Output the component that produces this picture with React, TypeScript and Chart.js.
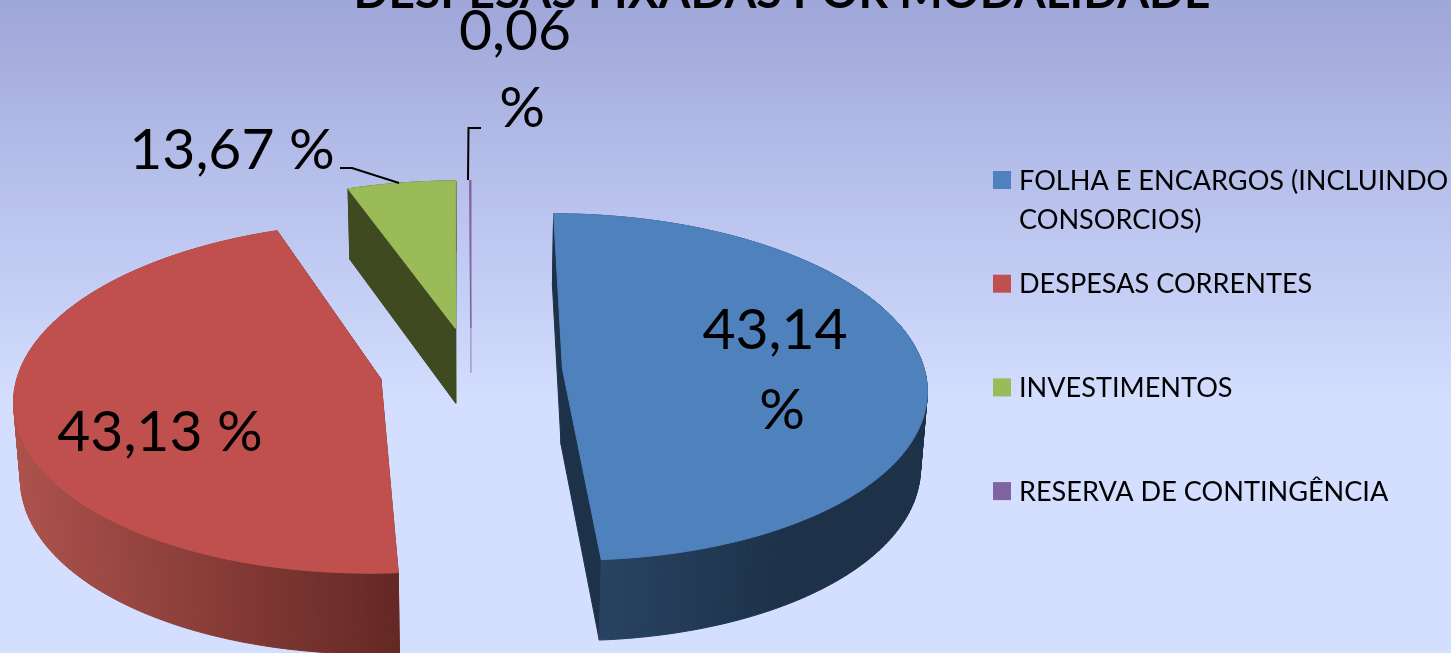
import React, { useEffect, useRef } from "react";
import { Chart, registerables } from "chart.js";

Chart.register(...registerables);

const chartTitle = "DESPESAS FIXADAS POR MODALIDADE";
const categories = ["FOLHA E ENCARGOS (INCLUINDO CONSORCIOS)", "DESPESAS CORRENTES", "INVESTIMENTOS", "RESERVA DE CONTINGÊNCIA"];
const legendLines = [["FOLHA E ENCARGOS (INCLUINDO", "CONSORCIOS)"], ["DESPESAS CORRENTES"], ["INVESTIMENTOS"], ["RESERVA DE CONTINGÊNCIA"]];
const drawnShares = [48.9, 45.6, 5.44, 0.06];
// Percentages as they are printed on the picture.
const printedPercent = ["43,14 %", "43,13 %", "13,67 %", "0,06 %"];
const topColors = ["#4f81bd", "#c0504d", "#9bbb59", "#8064a2"];
const wallDark = ["#1d3249", "#652825", "#3f4a20", "#a9a6d2"];
const wallLight = ["#2b4768", "#ad524d", "#3f4a20", "#a9a6d2"];

const W = 1451, H = 653;
const CX = 471, CY = 370, RX = 362, RY = 171.5, K = 0.1065, EXPLODE = 0.253, DEPTH = 76;
const FONT = "Lato";

function hex(c: string) { return [1, 3, 5].map((i) => parseInt(c.slice(i, i + 2), 16)); }
function mix(a: string, b: string, t: number) {
  const x = hex(a), y = hex(b);
  return `rgb(${x.map((v, i) => Math.round(v + (y[i] - v) * t)).join(",")})`;
}
function project(u: number, v: number, z: number) {
  const f = 1 / (1 - K * v);
  return [CX + RX * u * f * (1 - 0.015 * z), CY + RY * v * f + z * DEPTH * (1 + 0.06 * v)];
}

const piePlugin = {
  id: "perspectivePie",
  beforeDraw(chart: any) {
    const ctx = chart.ctx;
    const g = ctx.createLinearGradient(0, 0, 0, H);
    g.addColorStop(0, "#9fa6d8");
    g.addColorStop(0.23, "#b3bbe8");
    g.addColorStop(0.46, "#c6d0f6");
    g.addColorStop(0.62, "#d4defe");
    g.addColorStop(1, "#d4defe");
    ctx.save();
    ctx.fillStyle = g;
    ctx.fillRect(0, 0, W, H);
    ctx.fillStyle = "#000";
    ctx.textBaseline = "alphabetic";
    ctx.textAlign = "center";
    ctx.font = `bold 46px ${FONT}`;
    ctx.fillText(chart.options.plugins.title.text, 782, 8);
    ctx.restore();
  },
  beforeDatasetsDraw(chart: any) {
    const ctx = chart.ctx;
    const arcs = chart.getDatasetMeta(0).data;
    const outlines = arcs.map((arc: any) => {
      const s = arc.startAngle + Math.PI / 2, e = arc.endAngle + Math.PI / 2, m = (s + e) / 2;
      const ou = EXPLODE * Math.sin(m), ov = -EXPLODE * Math.cos(m);
      const pts: number[][] = [[ou, ov]];
      const n = Math.max(2, Math.ceil((e - s) / 0.02));
      for (let i = 0; i <= n; i++) {
        const t = s + ((e - s) * i) / n;
        pts.push([ou + Math.sin(t), ov - Math.cos(t)]);
      }
      return pts;
    });
    [2, 3, 1, 0].forEach((idx) => {
      const pts = outlines[idx];
      const z = idx === 3 ? 0.6 : 1;
      const tops = pts.map((p: number[]) => project(p[0], p[1], 0));
      const bots = pts.map((p: number[]) => project(p[0], p[1], z));
      const xs = tops.map((p: number[]) => p[0]);
      const x0 = Math.min(...xs), x1 = Math.max(...xs);
      const quads: any[] = [];
      for (let i = 0; i < pts.length; i++) {
        const j = (i + 1) % pts.length;
        const radial = i === 0 || j === 0;
        let t = ((tops[i][0] + tops[j][0]) / 2 - x0) / (x1 - x0 || 1);
        if (idx === 0) t = 1 - Math.min(1, t * 1.6);
        if (idx === 1) t = t < 0 ? 1 : 1 - t;
        const color = radial ? wallDark[idx] : mix(wallDark[idx], wallLight[idx], Math.max(0, Math.min(1, t)));
        quads.push({ a: tops[i], b: tops[j], c: bots[j], d: bots[i], color, y: (tops[i][1] + tops[j][1]) / 2 });
      }
      quads.sort((p, q) => p.y - q.y);
      ctx.save();
      ctx.lineWidth = 1;
      for (const q of quads) {
        ctx.fillStyle = q.color;
        ctx.strokeStyle = q.color;
        ctx.beginPath();
        ctx.moveTo(q.a[0], q.a[1]);
        ctx.lineTo(q.b[0], q.b[1]);
        ctx.lineTo(q.c[0], q.c[1]);
        ctx.lineTo(q.d[0], q.d[1]);
        ctx.closePath();
        ctx.fill();
        ctx.stroke();
      }
      const top = chart.data.datasets[0].backgroundColor[idx];
      ctx.fillStyle = top;
      ctx.strokeStyle = top;
      ctx.lineWidth = 1;
      ctx.lineJoin = "round";
      ctx.beginPath();
      tops.forEach((p: number[], i: number) => (i ? ctx.lineTo(p[0], p[1]) : ctx.moveTo(p[0], p[1])));
      ctx.closePath();
      ctx.fill();
      ctx.stroke();
      ctx.restore();
    });
    return false;
  },
  afterDraw(chart: any) {
    const ctx = chart.ctx;
    ctx.save();
    ctx.fillStyle = "#000";
    ctx.textBaseline = "middle";
    // legend
    ctx.font = `27.1px ${FONT}`;
    ctx.textAlign = "left";
    legendLines.forEach((lines, i) => {
      const y = 180 + i * 103.7;
      ctx.fillStyle = topColors[i];
      ctx.fillRect(993, y - 9, 18, 18);
      ctx.fillStyle = "#000";
      lines.forEach((line, j) => ctx.fillText(line, 1019, y + 1 + j * 39));
    });
    // data labels
    ctx.font = `57px ${FONT}`;
    ctx.textAlign = "center";
    const [v0, pct0] = printedPercent[0].split(" ");
    ctx.fillText(v0, 775, 331);
    ctx.fillText(pct0, 782, 411);
    ctx.fillText(printedPercent[1], 160, 433);
    ctx.fillText(printedPercent[2], 232, 151);
    const [v3, pct3] = printedPercent[3].split(" ");
    ctx.fillText(v3, 515, 32);
    ctx.fillText(pct3, 522, 109);
    // leader lines
    ctx.strokeStyle = "#000";
    ctx.lineWidth = 2;
    ctx.beginPath();
    ctx.moveTo(340, 168);
    ctx.lineTo(352, 168);
    ctx.lineTo(399, 183);
    ctx.moveTo(468, 180);
    ctx.lineTo(468.5, 128);
    ctx.lineTo(481, 128);
    ctx.stroke();
    ctx.restore();
  },
};

export default function App() {
  const ref = useRef<HTMLCanvasElement | null>(null);
  useEffect(() => {
    const chart = new Chart(ref.current as HTMLCanvasElement, {
      type: "pie",
      data: {
        labels: categories,
        datasets: [{ data: drawnShares, backgroundColor: topColors, borderWidth: 0 }],
      },
      options: {
        animation: false,
        responsive: false,
        plugins: {
          legend: { display: false },
          tooltip: { enabled: false },
          title: { display: false, text: chartTitle },
        },
      },
      plugins: [piePlugin],
    } as any);
    return () => chart.destroy();
  }, []);
  return (
    <div style={{ position: "fixed", left: 0, top: 0, width: W, height: H, overflow: "hidden" }}>
      <canvas ref={ref} width={W} height={H} style={{ display: "block", width: W, height: H }} />
    </div>
  );
}
